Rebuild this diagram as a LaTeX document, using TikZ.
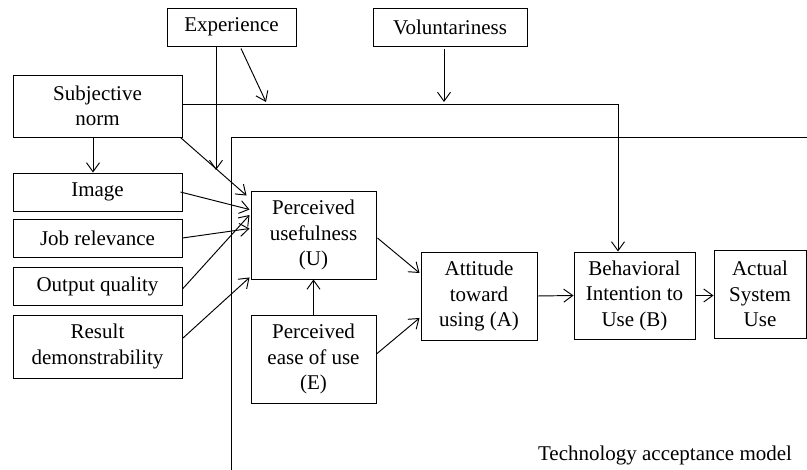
\documentclass[tikz,border=0pt]{standalone}
\usepackage{fontspec}
\setmainfont{Liberation Serif}
\usetikzlibrary{arrows.meta}
\begin{document}
\begin{tikzpicture}[x=1pt,y=-1pt,
  line width=0.95pt,
  font=\fontsize{21}{25.5}\selectfont,
  box/.style={draw, rectangle, inner sep=0pt, align=center},
  arr/.style={-{Straight Barb[length=9pt,width=13pt,line width=0.95pt]}}]
\useasboundingbox (0,0) rectangle (807,470);

% external variables
\node[box, minimum width=129, minimum height=38] (exp) at (231.5,27) {Experience};
\node[box, minimum width=154, minimum height=38] (vol) at (450,27) {Voluntariness};
\node[box, minimum width=169, minimum height=62] (sn) at (97.5,106) {Subjective\\norm};
\node[box, minimum width=169, minimum height=38] (img) at (97.5,192) {Image};
\node[box, minimum width=169, minimum height=38] (jr) at (97.5,238) {Job relevance};
\node[box, minimum width=169, minimum height=38] (oq) at (97.5,286) {Output quality};
\node[box, minimum width=169, minimum height=63] (rd) at (97.5,346.5) {Result\\demonstrability};

% TAM core
\node[box, minimum width=125, minimum height=88] (pu) at (313.5,235) {Perceived\\usefulness\\(U)};
\node[box, minimum width=125, minimum height=88] (peou) at (313.5,359) {Perceived\\ease of use\\(E)};
\node[box, minimum width=116, minimum height=88] (att) at (479,296) {Attitude\\toward\\using (A)};
\node[box, minimum width=121, minimum height=87] (bi) at (634.5,295.5) {Behavioral\\Intention to\\Use (B)};
\node[box, minimum width=92, minimum height=88] (act) at (760,294) {Actual\\System\\Use};

\node (cap) at (665,455) {Technology acceptance model};

% frame of the technology acceptance model
\coordinate (fb) at (231,470);
\coordinate (fc) at (231,137);
\coordinate (fr) at (807,137);
\draw (fb) -- (fc) -- (fr);

% subjective norm to intention
\draw[arr] ([yshift=2pt]sn.east) -| ([xshift=-16.5pt]bi.north);

% moderators
\coordinate (expend) at (216,170);
\coordinate (expmod) at (266,102);
\coordinate (volmod) at (444,102);
\draw[arr] ([xshift=-15.5pt]exp.south) -- (expend);
\draw[arr] ([xshift=9.5pt,yshift=-2pt]exp.south) -- (expmod);
\draw[arr] ([xshift=-6pt,yshift=-3pt]vol.south) -- (volmod);

% determinants of perceived usefulness
\draw[arr] ([xshift=-4.5pt]sn.south) -- ([xshift=-4.5pt]img.north);
\draw[arr] ([xshift=-2pt]sn.south east) -- ([xshift=-4pt,yshift=-5pt]pu.north west);
\draw[arr] ([xshift=-2pt]img.east) -- ([xshift=-1pt,yshift=-19pt]pu.north west);
\draw[arr] (jr.east) -- ([xshift=-1pt,yshift=-38pt]pu.north west);
\draw[arr] ([yshift=-3pt]oq.east) -- ([xshift=-1pt,yshift=20pt]pu.west);
\draw[arr] ([yshift=8pt]rd.east) -- ([xshift=-1pt,yshift=2pt]pu.south west);

% core relations
\draw[arr] (peou.north) -- (pu.south);
\draw[arr] ([xshift=1pt,yshift=-3pt]pu.east) -- ([xshift=-1pt,yshift=23pt]att.west);
\draw[arr] ([yshift=5pt]peou.east) -- ([xshift=-1pt,yshift=-22pt]att.west);
\draw[arr] (att.east) -- (bi.west);
\draw[arr] (bi.east) -- (bi.east -| act.west);
\end{tikzpicture}
\end{document}
